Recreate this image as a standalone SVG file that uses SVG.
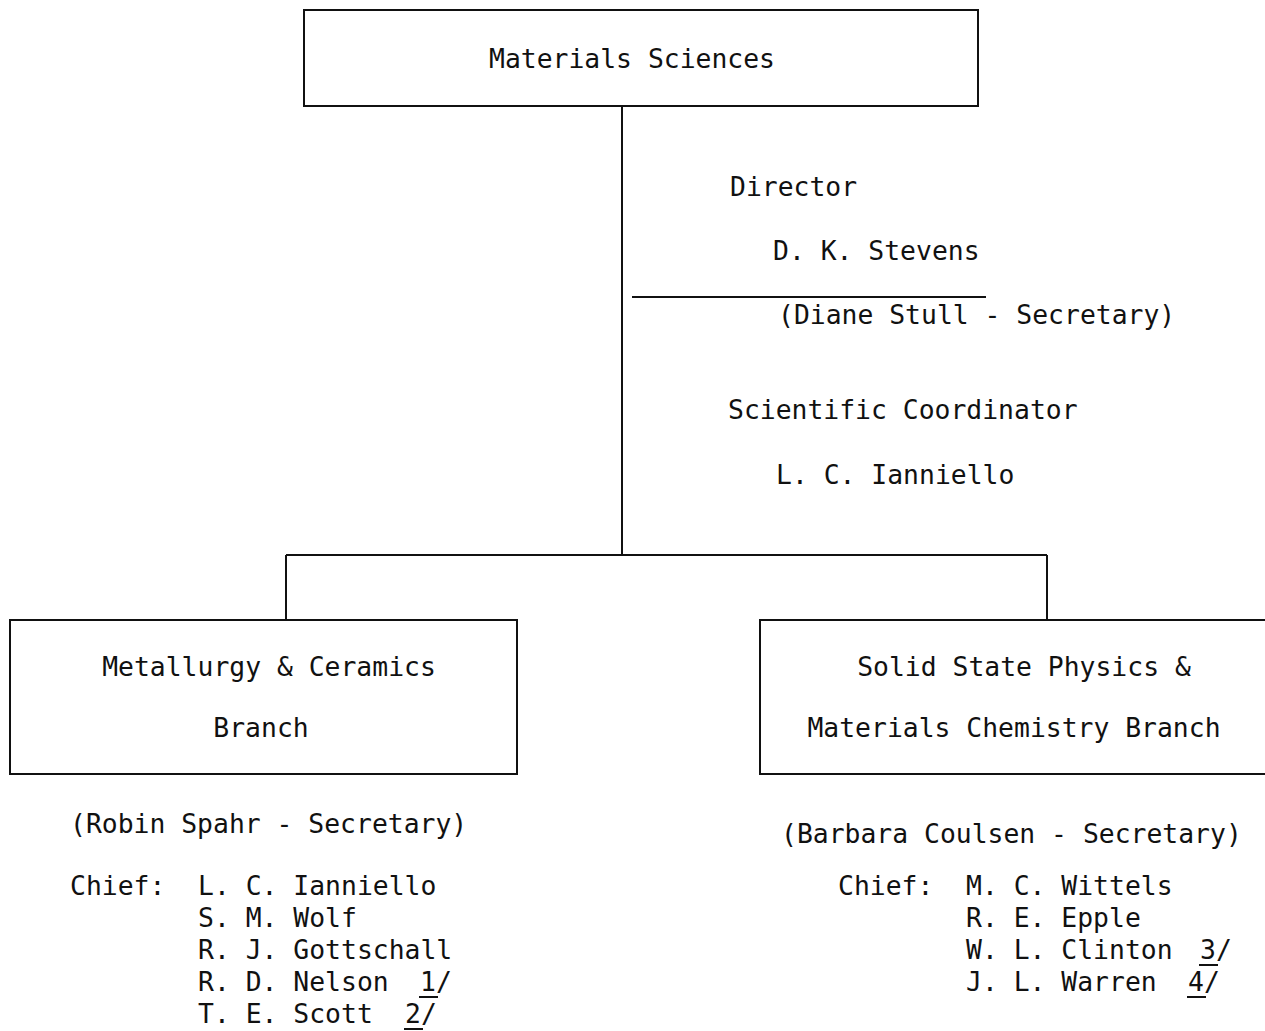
<svg xmlns="http://www.w3.org/2000/svg" width="1265" height="1031" viewBox="0 0 1265 1031">
<style>
text{font-family:"DejaVu Sans Mono","Liberation Mono",monospace;font-size:26.4px;fill:#111}
.box{fill:none;stroke:#111;stroke-width:2}
.ln{fill:none;stroke:#111;stroke-width:2}
.c{text-anchor:middle}
</style>
<rect width="1265" height="1031" fill="#fff"/>
<g id="connectors">
<path class="ln" d="M622,106 V555 M286,555 H1047 M286,555 V620 M1047,555 V620"/>
<path class="ln" d="M632,297 H986"/>
</g>
<g id="materials-sciences">
<rect class="box" x="304" y="10" width="674" height="96"/>
<text class="c" x="632" y="68">Materials Sciences</text>
</g>
<g id="director">
<text x="730" y="196">Director</text>
<text x="773" y="260">D. K. Stevens</text>
<text x="778" y="324">(Diane Stull - Secretary)</text>
</g>
<g id="coordinator">
<text x="728" y="419">Scientific Coordinator</text>
<text x="776" y="484">L. C. Ianniello</text>
</g>
<g id="metallurgy">
<rect class="box" x="10" y="620" width="507" height="154"/>
<text class="c" x="269" y="676">Metallurgy &amp; Ceramics</text>
<text class="c" x="261" y="737">Branch</text>
<text x="70" y="833">(Robin Spahr - Secretary)</text>
<text x="70" y="895">Chief:</text>
<text x="198" y="895">L. C. Ianniello</text>
<text x="198" y="927">S. M. Wolf</text>
<text x="198" y="959">R. J. Gottschall</text>
<text x="198" y="991">R. D. Nelson</text>
<text x="420" y="991">1/</text>
<text x="198" y="1023">T. E. Scott</text>
<text x="405" y="1023">2/</text>
<path class="ln" d="M419,997 H438 M404,1029 H423"/>
</g>
<g id="solid-state">
<rect class="box" x="760" y="620" width="520" height="154"/>
<text class="c" x="1024" y="676">Solid State Physics &amp;</text>
<text class="c" x="1014" y="737">Materials Chemistry Branch</text>
<text x="781" y="843">(Barbara Coulsen - Secretary)</text>
<text x="838" y="895">Chief:</text>
<text x="966" y="895">M. C. Wittels</text>
<text x="966" y="927">R. E. Epple</text>
<text x="966" y="959">W. L. Clinton</text>
<text x="1200" y="959">3/</text>
<text x="966" y="991">J. L. Warren</text>
<text x="1188" y="991">4/</text>
<path class="ln" d="M1199,965 H1218 M1187,997 H1206"/>
</g>
</svg>
